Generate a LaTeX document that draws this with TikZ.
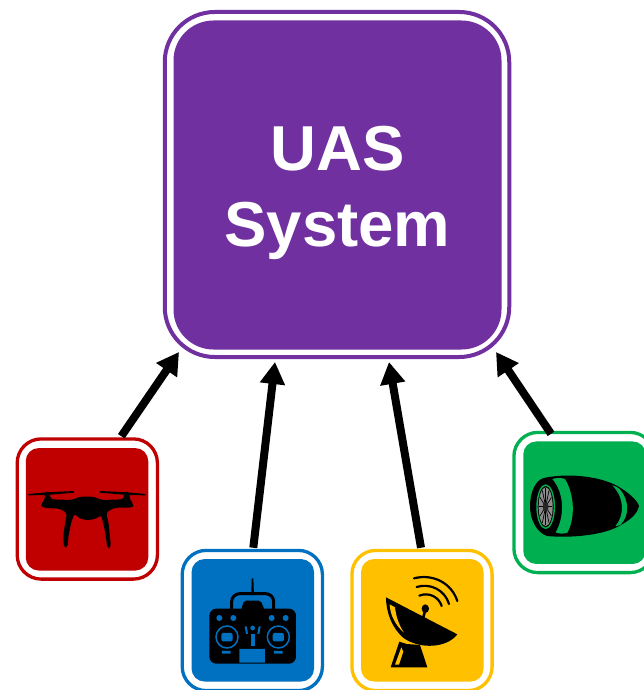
\documentclass[tikz,border=0pt]{standalone}
\usepackage{fontspec}
\setmainfont{Liberation Sans}
\usetikzlibrary{arrows.meta,calc}
\definecolor{uaspurple}{HTML}{7030A0}
\definecolor{dronered}{HTML}{C00000}
\definecolor{ctrlblue}{HTML}{0070C0}
\definecolor{dishgold}{HTML}{FFC000}
\definecolor{jetgreen}{HTML}{00B050}
\tikzset{
  ring/.style={draw=#1,fill=white,line width=3.3pt,rounded corners=24pt,minimum width=140.2pt,minimum height=140.2pt,inner sep=0pt},
  core/.style={fill=#1,rounded corners=13pt,minimum width=122.5pt,minimum height=122.5pt,inner sep=0pt},
  bigring/.style={draw=uaspurple,fill=white,line width=4pt,rounded corners=50pt,minimum width=344.5pt,minimum height=345pt,inner sep=0pt},
  bigcore/.style={fill=uaspurple,rounded corners=40pt,minimum width=328pt,minimum height=329pt,inner sep=0pt},
  biglabel/.style={inner sep=0pt,text=white,font=\bfseries\fontsize{63.5}{76}\selectfont,align=center},
  feeder/.style={line width=8pt,-{Triangle[length=22pt,width=24pt]},black},
  icon/.style={x=0.3333pt,y=-0.3333pt}
}
\begin{document}
\begin{tikzpicture}[x=1pt,y=-1pt]
\useasboundingbox (0,0) rectangle (644,690);
\node[bigring] (uasring) at (337,184.5) {};
\node[bigcore] (uas) at (337.5,185) {};
\node[biglabel] (uaslabel) at ($(uas.center)+(0,8)$) {UAS\\System};
\node[ring=dronered] (dronering) at (87.3,509) {};
\node[core=dronered] (drone) at (87,509.3) {};
\node[ring=ctrlblue] (ctrlring) at (252.3,620.5) {};
\node[core=ctrlblue] (ctrl) at (252.8,620.3) {};
\node[ring=dishgold] (dishring) at (422,620.5) {};
\node[core=dishgold] (dish) at (422.3,620.3) {};
\node[ring=jetgreen] (jetring) at (584,502.5) {};
\node[core=jetgreen] (jet) at (584.5,502.7) {};
% connectors
\draw[feeder] ($(dronering.north)+(34,-1)$) -- ($(uasring.south)+(-158,-7)$);
\draw[feeder] ($(ctrlring.north)+(1,-1)$) -- ($(uasring.south)+(-62,3)$);
\draw[feeder] ($(dishring.north)+(-1,-1)$) -- ($(uasring.south)+(52,3)$);
\draw[feeder] ($(jetring.north)+(-33,3)$) -- ($(uasring.south)+(159,-7)$);
% drone icon
\begin{scope}[shift={(0,420)},icon]
\fill[black,rounded corners=3pt] (135,216)--(147,216)--(152,238)--(215,240)--(240,230)--(280,230)--(305,240)--(370,238)--(375,216)--(387,216)--(390,240)--(402,254)--(397,263)--(345,263)--(318,277)--(326,310)--(333,382)--(322,386)--(317,345)--(310,310)--(303,284)--(290,296)--(260,301)--(236,294)--(223,280)--(213,310)--(205,350)--(203,382)--(191,382)--(190,345)--(197,300)--(201,278)--(178,266)--(128,263)--(122,254)--(135,238)--cycle;
\fill[black] (85,222)--(140,217)--(222,213)--(222,218)--(140,225)--(85,226)--cycle;
\fill[black] (437,222)--(382,217)--(300,213)--(300,218)--(382,225)--(437,226)--cycle;
\end{scope}
% remote icon
\begin{scope}[shift={(170,540)},icon]
\fill[black,rounded corners=7pt] (118,206) rectangle (378,371);
\fill[black] (245,115)--(250,115)--(252,165)--(244,165)--cycle;
\draw[black,line width=3pt,rounded corners=8pt] (185,215)--(185,161)--(311,161)--(311,215);
\fill[black,rounded corners=2pt] (213,210)--(222,182)--(272,182)--(284,210)--cycle;
\fill[ctrlblue] (148,234) circle[radius=9] (190,234) circle[radius=9] (305,234) circle[radius=9] (347,234) circle[radius=9];
\draw[ctrlblue,line width=1.5pt] (171,291) circle[radius=33] (325,291) circle[radius=33];
\fill[ctrlblue,rounded corners=2pt] (154,279) rectangle (188,304) (308,279) rectangle (342,304);
\fill[ctrlblue] (156,333) rectangle (182,341) (312,333) rectangle (338,341) (208,327) rectangle (285,368);
\fill[ctrlblue] (224,259)--(230,259)--(234,282)--(228,282)--cycle (272,259)--(266,259)--(262,282)--(268,282)--cycle;
\fill[ctrlblue] (248,264) circle[radius=7];
\fill[ctrlblue] (242,283) rectangle (254,318);
\end{scope}
% dish icon
\begin{scope}[shift={(340,540)},icon]
\fill[black] (138,172)--(352,283) .. controls (320,325) and (240,328) .. (192,295) .. controls (155,265) and (138,215) .. (138,172)--cycle;
\fill[dishgold] (149,193)--(165,202) .. controls (168,230) and (178,258) .. (192,278) .. controls (168,258) and (150,225) .. (149,193)--cycle;
\draw[black,line width=2.6pt] (256,208)--(250,232);
\fill[black] (256,206) ellipse[x radius=11,y radius=13];
\fill[black] (178,305)--(152,382)--(262,382)--(240,315)--(200,312)--cycle;
\fill[dishgold] (184,322)--(165,374)--(177,374)--(190,335)--cycle;
\draw[black,line width=2.2pt,line cap=round] (222,115) .. controls (280,100) and (335,130) .. (352,183);
\draw[black,line width=2.2pt,line cap=round] (230,141) .. controls (270,128) and (315,150) .. (327,192);
\draw[black,line width=2.2pt,line cap=round] (238,167) .. controls (268,155) and (297,172) .. (305,198);
\end{scope}
% jet icon
\begin{scope}[shift={(504,420)},icon]
\fill[black] (120,174) .. controls (180,160) and (280,165) .. (340,198) .. controls (370,215) and (400,240) .. (405,258) .. controls (400,285) and (370,305) .. (345,318) .. controls (300,345) and (200,355) .. (130,348) .. controls (100,340) and (78,300) .. (78,260) .. controls (78,215) and (95,180) .. (120,174)--cycle;
\fill[jetgreen] (145,177) .. controls (160,172) and (175,174) .. (183,177) .. controls (212,225) and (214,295) .. (190,338) .. controls (178,342) and (165,342) .. (155,337) .. controls (182,290) and (182,220) .. (145,177)--cycle;
\fill[jetgreen] (325,196) .. controls (335,198) and (342,202) .. (348,208) .. controls (375,240) and (378,285) .. (350,314) .. controls (345,316) and (340,318) .. (334,319) .. controls (362,285) and (362,235) .. (325,196)--cycle;
\draw[jetgreen,line width=1.4pt] (125,260) ellipse[x radius=26,y radius=65];
\fill[black!45] (125,260) ellipse[x radius=21,y radius=58];
\foreach \a in {0,30,...,330}{\draw[black,line width=0.7pt] (125,260) -- ++({20*cos(\a)},{56*sin(\a)});}
\fill[black!85] (125,260) ellipse[x radius=9,y radius=14];
\end{scope}
\end{tikzpicture}
\end{document}
